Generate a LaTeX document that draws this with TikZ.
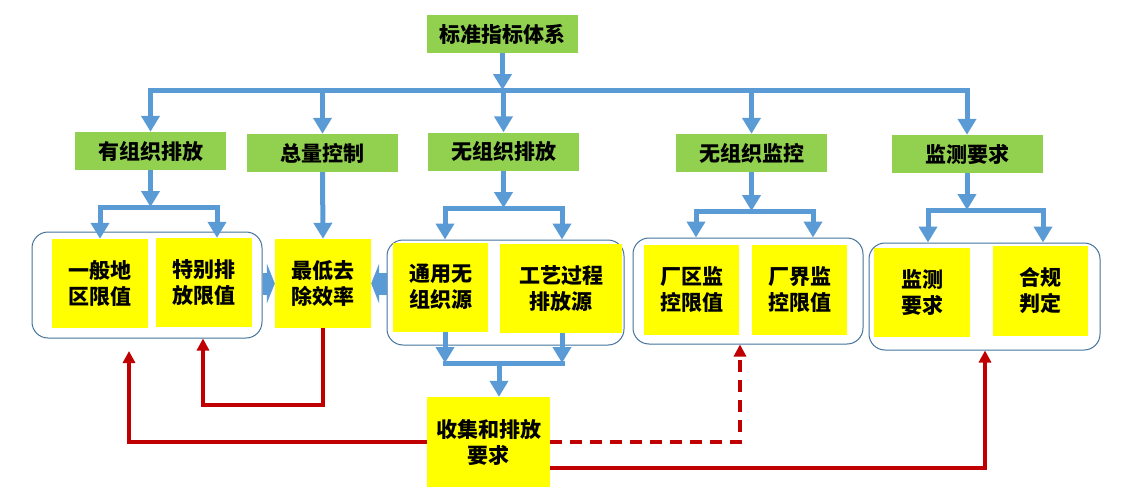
\documentclass[tikz,border=0pt]{standalone}
\usepackage{fontspec}
\newfontfamily\cjk{Noto Sans CJK SC}[BoldFont={Noto Sans CJK SC Black}]
\usetikzlibrary{arrows.meta}

\definecolor{boxgreen}{RGB}{146,208,80}
\definecolor{boxyellow}{RGB}{255,255,0}
\definecolor{linkblue}{RGB}{91,155,213}
\definecolor{linkred}{RGB}{192,0,0}
\definecolor{grpline}{RGB}{65,113,156}

\tikzset{
  catbox/.style={fill=boxgreen, minimum width=151pt, minimum height=38pt, inner sep=0pt,
    font=\cjk\bfseries\fontsize{21}{25}\selectfont},
  itembox/.style={fill=boxyellow, minimum width=96pt, minimum height=89pt, inner sep=0pt,
    align=center, font=\cjk\bfseries\fontsize{21}{26}\selectfont},
  grpbox/.style={draw=grpline, line width=1pt, rounded corners=16pt, inner sep=0pt},
  bluelink/.style={draw=linkblue, line width=5pt, -{Triangle[width=18pt,length=16pt]}},
  bluebus/.style={draw=linkblue, line width=5pt, line cap=rect},
  fatarrow/.style={draw=linkblue, line width=22pt, -{Triangle[width=40pt,length=8pt]}},
  redlink/.style={draw=linkred, line width=3.5pt, -{Triangle[width=12pt,length=12pt]}},
}

\begin{document}
\begin{tikzpicture}[x=1pt,y=1pt,yscale=-1,xscale=1]
\useasboundingbox (0,0) rectangle (1126,503);

% --- 1. 顶层与分类 ---
\node[catbox] (std)   at (502.5,34)  {标准指标体系};
\node[catbox] (org)   at (150.5,151) {有组织排放};
\node[catbox] (total) at (322.5,153) {总量控制};
\node[catbox] (unorg) at (503.5,151.5) {无组织排放};
\node[catbox] (unmon) at (751.5,153) {无组织监控};
\node[catbox] (mon)   at (967,154)   {监测要求};

% --- 2. 圆角分组框 ---
\node[grpbox, minimum width=230pt, minimum height=106pt] (grp1) at (147,285) {};
\node[grpbox, minimum width=237pt, minimum height=105pt] (grp3) at (505.5,292.5) {};
\node[grpbox, minimum width=230pt, minimum height=106pt] (grp4) at (748,291) {};
\node[grpbox, minimum width=231pt, minimum height=107pt] (grp5) at (984.5,296.5) {};

% --- 3. 黄色指标框 ---
\node[itembox] (gen)     at (100,283.5)  {一般地\\区限值};
\node[itembox] (spec)    at (204,282.5)  {特别排\\放限值};
\node[itembox] (minr)    at (323,283.5)  {最低去\\除效率};
\node[itembox, minimum width=95pt]  (gensrc)  at (440.5,287) {通用无\\组织源};
\node[itembox, minimum width=122pt] (procsrc) at (561,288.5) {工艺过程\\排放源};
\node[itembox, minimum width=95pt, minimum height=90pt] (plant) at (691.5,290) {厂区监\\控限值};
\node[itembox, minimum width=95pt, minimum height=90pt] (bound) at (799.5,290) {厂界监\\控限值};
\node[itembox] (monreq)  at (922,292.5)  {监测\\要求};
\node[itembox, minimum width=95pt, minimum height=90pt] (judge) at (1040.5,291) {合规\\判定};
\node[itembox, minimum width=123pt, minimum height=90pt] (collect) at (488.5,442) {收集和排放\\要求};

% --- 4. 蓝色连线 ---
\coordinate (topbus) at (0,90);
\draw[bluelink] (std.south) -- (std.south |- topbus);
\draw[bluebus] (org |- topbus) -- (mon |- topbus);
\foreach \c in {org,total,unorg,unmon,mon}
  \draw[bluelink] (\c |- topbus) -- (\c.north);

\coordinate (o1) at (100,207);  \coordinate (o2) at (217,207);
\coordinate (n1) at (445,208);  \coordinate (n2) at (562,208);
\coordinate (m1) at (696,211);  \coordinate (m2) at (813,211);
\coordinate (s1) at (928,210);  \coordinate (s2) at (1043,210);
\draw[bluelink] (org.south) -- (org.south |- o1);
\draw[bluelink] (unorg.south) -- (unorg.south |- n1);
\draw[bluelink] (unmon.south) -- (unmon.south |- m1);
\draw[bluelink] (mon.south) -- (mon.south |- s1);
\draw[bluebus] (o1) -- (o2);
\draw[bluebus] (n1) -- (n2);
\draw[bluebus] (m1) -- (m2);
\draw[bluebus] (s1) -- (s2);
\draw[bluelink] (o1) -- (o1 |- gen.north);
\draw[bluelink] (o2) -- (o2 |- spec.north);
\draw[bluelink] (n1) -- (n1 |- grp3.north);
\draw[bluelink] (n2) -- (n2 |- grp3.north);
\draw[bluelink] (m1) -- (m1 |- grp4.north);
\draw[bluelink] (m2) -- (m2 |- grp4.north);
\draw[bluelink] (s1) -- (s1 |- grp5.north);
\draw[bluelink] (s2) -- (s2 |- grp5.north);
\draw[bluelink] (total.south) -- (minr.north);

\coordinate (u1) at (445,363);  \coordinate (u2) at (562,363);
\coordinate (u3) at (499,363);
\draw[bluelink] (u1 |- gensrc.south) -- (u1);
\draw[bluelink] (u2 |- procsrc.south) -- (u2);
\draw[bluebus] (u1) -- (u2);
\draw[bluelink] (u3) -- (u3 |- collect.north);

\draw[fatarrow] (minr.west -| grp1.east) -- (minr.west);
\draw[fatarrow] (minr.east -| grp3.west) -- (minr.east);

% --- 5. 红色反馈线 ---
\coordinate (r1) at (203,405);
\coordinate (r2) at (129,351);
\coordinate (r3) at (740,442);
\coordinate (r4) at (985,468);
\draw[redlink] (minr.south) |- (r1) -- (r1 |- grp1.south);
\draw[redlink] (collect.west) -| (r2);
\draw[redlink, dash pattern=on 12pt off 8pt] (collect.east) -- (r3) -- (r3 |- grp4.south);
\draw[redlink] (collect.east |- r4) -- (r4) -- (r4 |- grp5.south);

\end{tikzpicture}
\end{document}
